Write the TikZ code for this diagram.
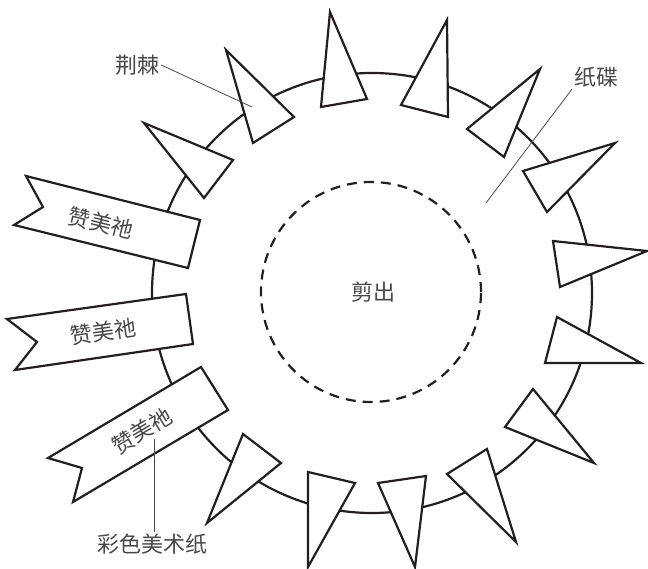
\documentclass[tikz,border=0pt]{standalone}
\usepackage{fontspec}
\newfontfamily\cjk{Noto Sans CJK SC}
\definecolor{ink}{HTML}{231F20}
\definecolor{txt}{HTML}{484848}

\begin{document}
\begin{tikzpicture}[
        x=1pt, y=-1pt,
        rim/.style={draw=ink, line width=2.2pt},
        spike/.style={draw=ink, line width=2.2pt, fill=white},
        banner/.style={draw=ink, line width=2.2pt, fill=white},
        cutline/.style={draw=ink, line width=2.2pt, dash pattern=on 10pt off 7pt},
        tag/.style={font=\cjk\fontsize{22}{26}\selectfont, text=txt, inner sep=2pt},
        leader/.style={draw=txt, line width=0.8pt}
      ]
        \useasboundingbox (0,0) rectangle (648,569);

        \coordinate (center) at (372,293);
        \draw[rim] (center) circle[radius=220pt];

        % spikes, clockwise from the upper left
        \draw[spike] (226,50) -- (294,117) -- (253,143) -- cycle;
        \draw[spike] (144,123) -- (233,160) -- (204,198) -- cycle;
        \draw[spike] (330,12) -- (367,99) -- (321,107) -- cycle;
        \draw[spike] (447,20) -- (448,117) -- (401,105) -- cycle;
        \draw[spike] (540,69) -- (467,129) -- (504,157) -- cycle;
        \draw[spike] (615,143) -- (523,171) -- (547,212) -- cycle;
        \draw[spike] (553,241) -- (647,251) -- (560,287) -- cycle;
        \draw[spike] (557,317) -- (641,363) -- (545,363) -- cycle;
        \draw[spike] (533,389) -- (505,427) -- (594,463) -- cycle;
        \draw[spike] (487,449) -- (447,474) -- (516,542) -- cycle;
        \draw[spike] (378,483) -- (426,476) -- (415,567) -- cycle;
        \draw[spike] (308,472) -- (355,483) -- (308,567) -- cycle;
        \draw[spike] (243,434) -- (281,463) -- (207,523) -- cycle;

        % banners
        \draw[banner] (26,176) -- (200,220) -- (188,268) -- (14,225) -- (43,207) -- cycle;
        \node (praise1) [tag, rotate=-14] at (101,223) {赞美祂};

        \draw[banner] (7,319) -- (186,294) -- (193,344) -- (15,370) -- (37,342) -- cycle;
        \node (praise2) [tag, rotate=8] at (103,332) {赞美祂};

        \draw[banner] (48,458) -- (201,367) -- (228,410) -- (73,502) -- (82,468) -- cycle;
        \node (praise3) [tag, rotate=31] at (142,431) {赞美祂};

        % cut-out
        \draw[cutline] (371,292) circle[radius=110pt];
        \node (cut) [tag] at (373,292) {剪出};

        % labels
        \node (thorn) [tag] at (137,65) {荆棘};
        \coordinate (thornend) at (252,107);
        \draw[leader] (thorn.east) -- (thornend);

        \node (plate) [tag] at (596,77) {纸碟};
        \coordinate (plateend) at (486,203);
        \draw[leader] (plate.south west) -- (plateend);

        \node (paper) [tag] at (152,544) {彩色美术纸};
        \coordinate (paperend) at (154,439);
        \draw[leader] (paperend) -- (paperend |- paper.north);
      \end{tikzpicture}
\end{document}
